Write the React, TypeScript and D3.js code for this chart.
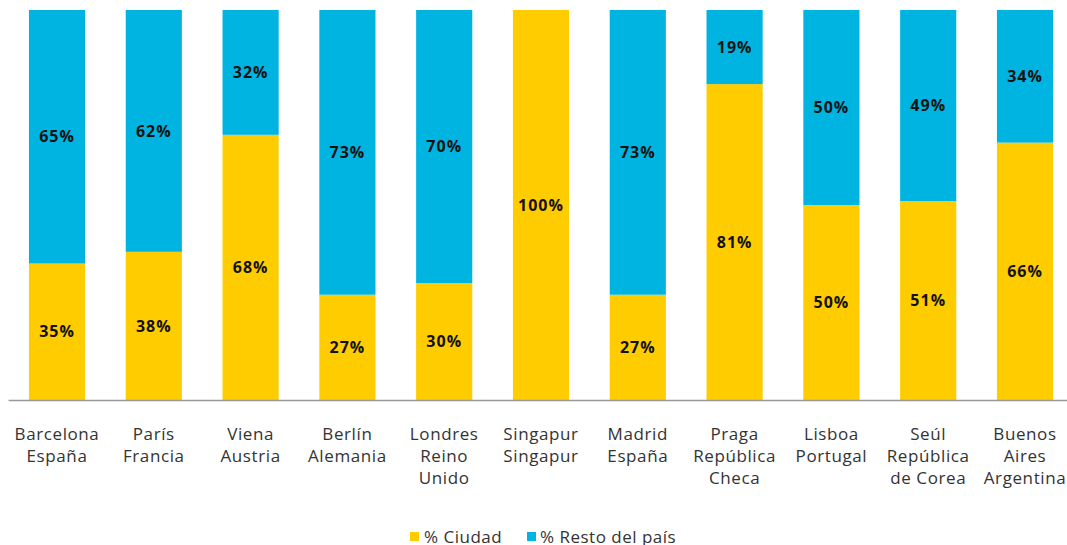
import React from "react";
import * as d3 from "d3";

const cities = [
  ["Barcelona", "España"],
  ["París", "Francia"],
  ["Viena", "Austria"],
  ["Berlín", "Alemania"],
  ["Londres", "Reino", "Unido"],
  ["Singapur", "Singapur"],
  ["Madrid", "España"],
  ["Praga", "República", "Checa"],
  ["Lisboa", "Portugal"],
  ["Seúl", "República", "de Corea"],
  ["Buenos", "Aires", "Argentina"],
];
const ciudad = [35, 38, 68, 27, 30, 100, 27, 81, 50, 51, 66];
const resto = [65, 62, 32, 73, 70, 0, 73, 19, 50, 49, 34];

const width = 1067;
const height = 545;
const margin = { top: 10, left: 8.6, bottom: 145 };
const yellow = "#FFCC00";
const blue = "#00B4E1";
const font = "'Open Sans', Lato, sans-serif";

export default function App() {
  const innerBottom = height - margin.bottom;
  const x = d3
    .scaleBand<number>()
    .domain(d3.range(cities.length))
    .range([margin.left, margin.left + 96.8 * cities.length])
    .paddingInner(0.42)
    .paddingOuter(0.21);
  const y = d3.scaleLinear().domain([0, 100]).range([innerBottom, margin.top]);

  return (
    <svg
      width={width}
      height={height}
      style={{ position: "absolute", left: 0, top: 0, fontFamily: font }}
    >
      {cities.map((c, i) => {
        const bx = x(i)!;
        const bw = x.bandwidth();
        const cx = bx + bw / 2;
        const c0 = ciudad[i];
        const r0 = resto[i];
        return (
          <g key={i}>
            <rect x={bx} y={y(c0)} width={bw} height={y(0) - y(c0)} fill={yellow} />
            {r0 > 0 && (
              <rect x={bx} y={y(c0 + r0)} width={bw} height={y(c0) - y(c0 + r0)} fill={blue} />
            )}
            {c0 > 0 && (
              <text x={cx} y={y(c0 / 2)} dy="0.35em" textAnchor="middle" fontWeight="bold" fontSize={16} letterSpacing={1} fill="#111">
                {c0}%
              </text>
            )}
            {r0 > 0 && (
              <text x={cx} y={y(c0 + r0 / 2)} dy="0.35em" textAnchor="middle" fontWeight="bold" fontSize={16} letterSpacing={1} fill="#111">
                {r0}%
              </text>
            )}
            <text x={cx} y={440} textAnchor="middle" fontSize={17} letterSpacing={0.6} fill="#333">
              {c.map((line, j) => (
                <tspan key={j} x={cx} dy={j === 0 ? 0 : 22}>
                  {line}
                </tspan>
              ))}
            </text>
          </g>
        );
      })}
      <line x1={margin.left} x2={width} y1={innerBottom + 0.5} y2={innerBottom + 0.5} stroke="#999" strokeWidth={1.5} />
      <g>
        <rect x={410} y={532} width={9} height={9} fill={yellow} />
        <text x={424} y={543} fontSize={17} letterSpacing={0.5} fill="#333">% Ciudad</text>
        <rect x={527} y={532} width={9} height={9} fill={blue} />
        <text x={540} y={543} fontSize={17} letterSpacing={0.5} fill="#333">% Resto del país</text>
      </g>
    </svg>
  );
}
